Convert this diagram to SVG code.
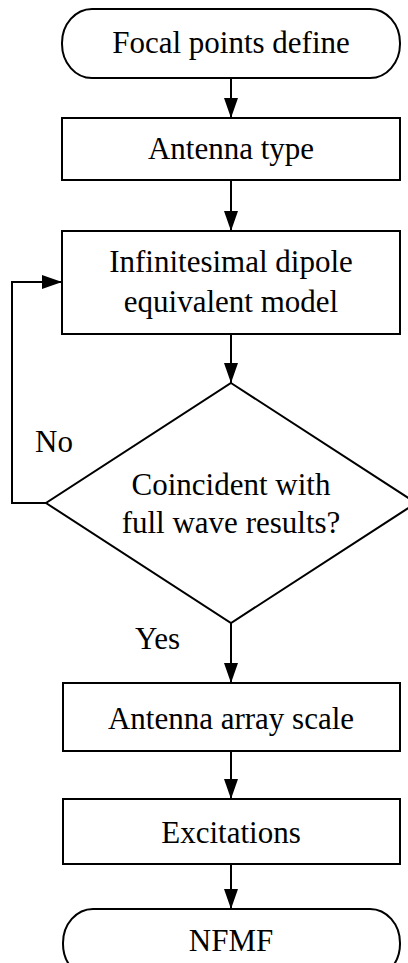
<svg xmlns="http://www.w3.org/2000/svg" width="408" height="963" viewBox="0 0 408 963">
<style>
.s{fill:#fff;stroke:#000;stroke-width:2}
.c{fill:none;stroke:#000;stroke-width:2}
text{font-family:"Liberation Serif","Times New Roman",serif;font-size:31px;fill:#000}
.m{text-anchor:middle}
</style>
<defs>
<marker id="ah" markerUnits="userSpaceOnUse" markerWidth="20" markerHeight="14" refX="20" refY="7" orient="auto">
<path d="M0,0 L20,7 L0,14 z" fill="#000"/>
</marker>
</defs>
<rect width="408" height="963" fill="#fff"/>
<g id="connectors">
<line class="c" x1="231" y1="78" x2="231" y2="118" marker-end="url(#ah)"/>
<line class="c" x1="231" y1="180" x2="231" y2="231" marker-end="url(#ah)"/>
<line class="c" x1="231" y1="334" x2="231" y2="383" marker-end="url(#ah)"/>
<polyline class="c" points="46,503 12,503 12,282 62,282" marker-end="url(#ah)"/>
<line class="c" x1="231" y1="623" x2="231" y2="683" marker-end="url(#ah)"/>
<line class="c" x1="231" y1="751" x2="231" y2="799" marker-end="url(#ah)"/>
<line class="c" x1="231" y1="864" x2="231" y2="909" marker-end="url(#ah)"/>
<text x="35" y="452">No</text>
<text x="135" y="649">Yes</text>
</g>
<g id="start">
<rect class="s" x="62" y="9" width="338" height="69" rx="30" ry="34"/>
<text class="m" x="231" y="53">Focal points define</text>
</g>
<g id="antenna-type">
<rect class="s" x="62" y="118" width="338" height="62"/>
<text class="m" x="231" y="159">Antenna type</text>
</g>
<g id="dipole-model">
<rect class="s" x="62" y="231" width="338" height="103"/>
<text class="m" x="231" y="272">Infinitesimal dipole</text>
<text class="m" x="231" y="312">equivalent model</text>
</g>
<g id="decision">
<polygon class="s" points="231,383 416,503 231,623 46,503"/>
<text class="m" x="231" y="495">Coincident with</text>
<text class="m" x="231" y="533">full wave results?</text>
</g>
<g id="array-scale">
<rect class="s" x="63" y="683" width="337" height="68"/>
<text class="m" x="231" y="729">Antenna array scale</text>
</g>
<g id="excitations">
<rect class="s" x="63" y="799" width="337" height="65"/>
<text class="m" x="231" y="843">Excitations</text>
</g>
<g id="end">
<rect class="s" x="63" y="909" width="337" height="69" rx="30" ry="34"/>
<text class="m" x="231" y="951">NFMF</text>
</g>
</svg>
